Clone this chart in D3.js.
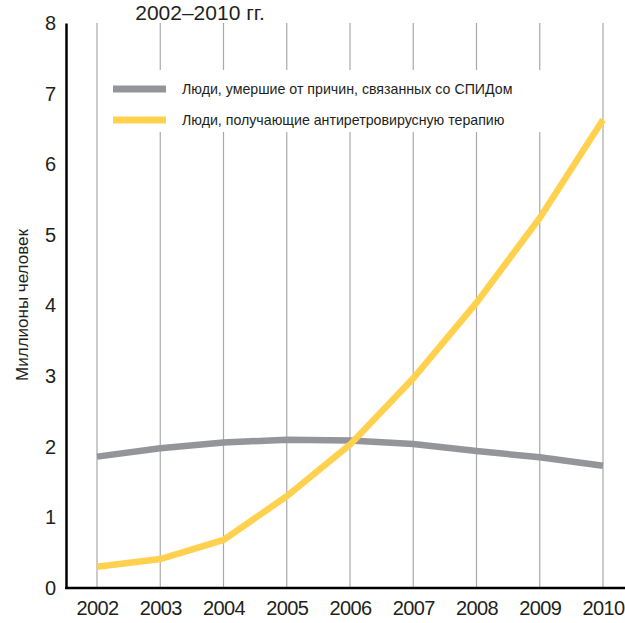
<!DOCTYPE html>
<html><head><meta charset="utf-8">
<script src="https://cdn.jsdelivr.net/npm/d3@7"></script>
<style>body{margin:0;background:#fff}svg{display:block}text{font-family:"Liberation Sans Narrow","Arial Narrow",sans-serif}</style>
</head><body>
<svg id="c" width="625" height="623"></svg>
<script>
const years = [2002,2003,2004,2005,2006,2007,2008,2009,2010];
const deaths = [1.86,1.98,2.06,2.10,2.09,2.04,1.94,1.85,1.73];
const treatment = [0.30,0.41,0.68,1.30,2.03,2.97,4.04,5.24,6.63];
const yTicks = [0,1,2,3,4,5,6,7,8];
const seriesNames = ["Люди, умершие от причин, связанных со СПИДом","Люди, получающие антиретровирусную терапию"];
const title = "2002–2010 гг.";
const yTitle = "Миллионы человек";

const FONT = '"Liberation Sans Narrow","Arial Narrow",sans-serif';
const svg = d3.select("#c");
const x = d3.scalePoint().domain(years).range([97,603]);
const y = d3.scaleLinear().domain([0,8]).range([588,23]);

// gridlines
svg.append("g").selectAll("line").data(years).join("line")
  .attr("x1",d=>x(d)).attr("x2",d=>x(d)).attr("y1",y(8)).attr("y2",y(0))
  .attr("stroke","#a7a9ac").attr("stroke-width",1.2);

// legend background
svg.append("rect").attr("x",104).attr("y",70).attr("width",452).attr("height",62).attr("fill","#fff");

// title
svg.append("text").attr("x",200).attr("y",20).attr("text-anchor","middle")
  .attr("font-size",21).attr("fill","#231f20").text(title);

// lines
const line = d3.line().x((d,i)=>x(years[i])).y(d=>y(d));
svg.append("path").datum(deaths).attr("d",line).attr("fill","none")
  .attr("stroke","#939598").attr("stroke-width",6.5);
svg.append("path").datum(treatment).attr("d",line).attr("fill","none")
  .attr("stroke","#ffd14f").attr("stroke-width",6.5);

// axes
const yAxis = d3.axisLeft(y).tickValues(yTicks).tickSize(0).tickPadding(10);
const gy = svg.append("g").attr("transform","translate(66,0)").call(yAxis);
gy.select(".domain").attr("stroke","#000").attr("stroke-width",2.5);
gy.selectAll("text").attr("font-size",20).attr("fill","#231f20").style("font-family",FONT);

const xAxis = d3.axisBottom(x).tickSize(0).tickPadding(13);
const gx = svg.append("g").attr("transform","translate(0,588)").call(xAxis);
gx.select(".domain").attr("d","M65,0H625").attr("stroke","#000").attr("stroke-width",2.5);
gx.selectAll("text").attr("font-size",20).attr("letter-spacing",-0.6).attr("fill","#231f20").style("font-family",FONT);

// y title
svg.append("text").attr("transform","translate(28,305) rotate(-90)").attr("text-anchor","middle")
  .attr("font-size",17).attr("fill","#231f20").text(yTitle);

// legend
const colors = ["#939598","#ffd14f"];
const lg = svg.append("g");
seriesNames.forEach((n,i)=>{
  const yy = 89 + i*31;
  lg.append("line").attr("x1",113).attr("x2",166).attr("y1",yy).attr("y2",yy).attr("stroke",colors[i]).attr("stroke-width",7);
  lg.append("text").attr("x",182).attr("y",yy).attr("dy","0.35em").attr("font-size",14.2).attr("fill","#231f20").text(n);
});
</script>
</body></html>
